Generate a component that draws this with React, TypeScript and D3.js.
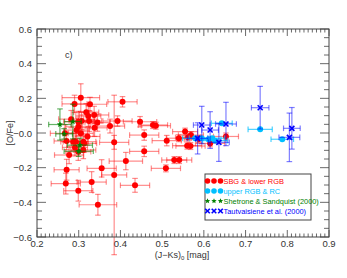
import React from "react";
import * as d3 from "d3";

// SBG & lower RGB (red)
const redX = [0.305,0.405,0.327,0.290,0.337,0.323,0.325,0.393,0.307,0.299,0.447,0.375,0.485,0.478,0.299,0.295,0.457,0.267,0.305,0.385,0.271,0.311,0.293,0.511,0.457,0.413,0.529,0.541,0.509,0.385,0.435,0.355,0.277,0.271,0.269,0.299,0.331,0.346,0.299,0.311,0.555,0.569,0.562,0.540,0.560,0.568,0.588,0.615,0.653,0.287,0.313,0.291,0.318,0.338,0.345,0.282,0.321];
const redY = [0.204,0.180,0.166,0.168,0.104,0.098,0.069,0.069,0.069,0.065,0.065,0.040,0.042,0.046,0.036,0.017,-0.012,-0.002,-0.002,-0.054,-0.046,-0.050,-0.050,-0.044,-0.106,-0.162,-0.156,-0.156,-0.204,-0.242,-0.302,-0.204,-0.127,-0.212,-0.292,-0.333,-0.283,-0.414,-0.108,-0.098,0.008,-0.012,-0.025,-0.030,-0.073,-0.075,-0.035,-0.060,-0.020,-0.050,-0.060,-0.083,0.120,0.030,0.060,0.080,-0.020];
const redXErr = [0.045,0.035,0.04,0.03,0.035,0.03,0.03,0.035,0.03,0.035,0.04,0.035,0.035,0.035,0.03,0.03,0.035,0.035,0.03,0.035,0.03,0.03,0.03,0.035,0.035,0.04,0.03,0.03,0.035,0.03,0.035,0.035,0.035,0.03,0.035,0.035,0.035,0.045,0.03,0.03,0.03,0.03,0.03,0.03,0.035,0.035,0.035,0.035,0.03,0.03,0.03,0.03,0.03,0.03,0.03,0.03,0.03];
const redYErr = [0.08,0.03,0.04,0.05,0.05,0.06,0.06,0.03,0.05,0.06,0.03,0.04,0.02,0.02,0.05,0.05,0.03,0.05,0.05,0.04,0.05,0.06,0.06,0.03,0.03,0.05,0.02,0.02,0.02,0.46,0.04,0.05,0.05,0.06,0.06,0.06,0.06,0.06,0.05,0.05,0.02,0.02,0.02,0.02,0.02,0.02,0.02,0.02,0.02,0.05,0.05,0.05,0.05,0.05,0.05,0.05,0.05];

// upper RGB & RC (cyan)
const cyanX = [0.735,0.788,0.643,0.595,0.611,0.627,0.579,0.620];
const cyanY = [0.021,-0.036,0.056,-0.031,-0.036,-0.044,-0.031,-0.030];
const cyanXErr = [0.029,0.027,0.025,0.03,0.03,0.03,0.03,0.03];
const cyanYErr = [0.005,0.005,0.005,0.005,0.005,0.005,0.005,0.005];

// Shetrone & Sandquist (2000) (green)
const greenX = [0.255,0.286,0.303,0.300,0.265];
const greenY = [0.049,0.066,-0.070,-0.105,-0.005];
const greenXErr = [0.027,0.02,0.03,0.035,0.02];
const greenYErr = [0.09,0.10,0.04,0.03,0.03];

// Tautvaisiene et al. (2000) (blue)
const blueX = [0.595,0.615,0.585,0.653,0.636,0.735,0.811,0.805];
const blueY = [0.046,0.017,-0.031,0.052,-0.054,0.146,0.027,-0.025];
const blueXErr = [0.02,0.02,0.025,0.025,0.025,0.021,0.02,0.025];
const blueYErr = [0.108,0.106,0.09,0.125,0.11,0.123,0.12,0.14];

const xTicks = [0.2,0.3,0.4,0.5,0.6,0.7,0.8,0.9];
const yTicks = [0.6,0.4,0.2,0.0,-0.2,-0.4,-0.6];
const yTickLabels = ["0.6","0.4","0.2","\u22120.0","\u22120.2","\u22120.4","\u22120.6"];
const legendLabels = ["SBG & lower RGB","upper RGB & RC","Shetrone & Sandquist (2000)","Tautvaisiene et al. (2000)"];

const W = 347, H = 278;
const L = 37, R = 329, T = 29, B = 237;
const x = d3.scaleLinear().domain([0.2,0.9]).range([L,R]);
const y = d3.scaleLinear().domain([-0.6,0.6]).range([B,T]);

const FONT = "'Liberation Sans', Arial, Helvetica, sans-serif";
const RED = "#ff0000", CYAN = "#00bfff", GREEN = "#008000", BLUE = "#0000ff";

function ErrBars({xs, ys, xe, ye, color, op}:{xs:number[],ys:number[],xe:number[],ye:number[],color:string,op:number}) {
  const cap = 2.8;
  return (
    <g stroke={color} strokeOpacity={op} strokeWidth={1.2} fill="none">
      {xs.map((v,i)=>{
        const cx = x(v), cy = y(ys[i]);
        const x0 = x(v - xe[i]), x1 = x(v + xe[i]);
        const y0 = y(ys[i] - ye[i]), y1 = y(ys[i] + ye[i]);
        return (
          <g key={i}>
            <line x1={x0} x2={x1} y1={cy} y2={cy}/>
            <line x1={x0} x2={x0} y1={cy-cap} y2={cy+cap}/>
            <line x1={x1} x2={x1} y1={cy-cap} y2={cy+cap}/>
            {ye[i] > 0.008 && <>
              <line x1={cx} x2={cx} y1={y0} y2={y1}/>
              <line x1={cx-cap} x2={cx+cap} y1={y0} y2={y0}/>
              <line x1={cx-cap} x2={cx+cap} y1={y1} y2={y1}/>
            </>}
          </g>
        );
      })}
    </g>
  );
}

function star(cx:number, cy:number, r:number) {
  const pts:string[] = [];
  for (let k=0;k<10;k++){
    const a = -Math.PI/2 + k*Math.PI/5;
    const rr = k%2===0 ? r : r*0.45;
    pts.push(`${cx+rr*Math.cos(a)},${cy+rr*Math.sin(a)}`);
  }
  return pts.join(" ");
}

function XMark({cx, cy, s}:{cx:number,cy:number,s:number}) {
  return (
    <g stroke={BLUE} strokeWidth={1.6}>
      <line x1={cx-s} y1={cy-s} x2={cx+s} y2={cy+s}/>
      <line x1={cx-s} y1={cy+s} x2={cx+s} y2={cy-s}/>
    </g>
  );
}

export default function App() {
  const xMinor = d3.range(0.2, 0.9001, 0.01);
  const yMinor = d3.range(-0.6, 0.6001, 0.05);
  const axisColor = "#444";
  const legX = 205, legY = 174, legW = 106, legH = 46;
  const rowY = [181, 191, 201, 211];
  const symX = [207.5, 214, 220.5];
  return (
    <svg width={W} height={H} style={{position:"absolute",left:0,top:0}} fontFamily={FONT}>
      <rect x={0} y={0} width={W} height={H} fill="#fff"/>
      {/* data */}
      <ErrBars xs={redX} ys={redY} xe={redXErr} ye={redYErr} color={RED} op={0.45}/>
      {redX.map((v,i)=> <circle key={i} cx={x(v)} cy={y(redY[i])} r={3} fill={RED}/>)}
      <ErrBars xs={cyanX} ys={cyanY} xe={cyanXErr} ye={cyanYErr} color={CYAN} op={0.7}/>
      {cyanX.map((v,i)=> <circle key={i} cx={x(v)} cy={y(cyanY[i])} r={3} fill={CYAN}/>)}
      <ErrBars xs={greenX} ys={greenY} xe={greenXErr} ye={greenYErr} color={GREEN} op={0.6}/>
      {greenX.map((v,i)=> <polygon key={i} points={star(x(v), y(greenY[i]), 3.2)} fill={GREEN}/>)}
      <ErrBars xs={blueX} ys={blueY} xe={blueXErr} ye={blueYErr} color={BLUE} op={0.5}/>
      {blueX.map((v,i)=> <XMark key={i} cx={x(v)} cy={y(blueY[i])} s={2.5}/>)}

      {/* frame */}
      <rect x={L} y={T} width={R-L} height={B-T} fill="none" stroke={axisColor} strokeWidth={1}/>
      {xMinor.map((v,i)=>{
        const major = Math.abs(Math.round(v*10)-v*10) < 1e-6;
        const len = major ? 7 : 3.5;
        return <g key={"xt"+i} stroke={axisColor} strokeWidth={0.8}>
          <line x1={x(v)} x2={x(v)} y1={B} y2={B-len}/>
          <line x1={x(v)} x2={x(v)} y1={T} y2={T+len}/>
        </g>;
      })}
      {yMinor.map((v,i)=>{
        const major = Math.abs(Math.round(v*5)-v*5) < 1e-6;
        const len = major ? 9 : 5;
        return <g key={"yt"+i} stroke={axisColor} strokeWidth={0.8}>
          <line x1={L} x2={L+len} y1={y(v)} y2={y(v)}/>
          <line x1={R} x2={R-len} y1={y(v)} y2={y(v)}/>
        </g>;
      })}
      {xTicks.map((v,i)=> <text key={"xl"+i} x={x(v)} y={247} textAnchor="middle" fontSize={9.5} fill="#333">{d3.format(".1f")(v)}</text>)}
      {yTicks.map((v,i)=> <text key={"yl"+i} x={32} y={y(v)+3.5} textAnchor="end" fontSize={9.5} fill="#333">{yTickLabels[i]}</text>)}
      <text x={182} y={258} textAnchor="middle" fontSize={9} fill="#333">(J−Ks)<tspan fontSize={6} dy={2}>0</tspan><tspan dy={-2}> [mag]</tspan></text>
      <text transform={`translate(13,${y(0)}) rotate(-90)`} textAnchor="middle" fontSize={9} fill="#333">[O/Fe]</text>
      <text x={65} y={58} fontSize={9} fill="#333">c)</text>

      {/* legend */}
      <rect x={legX} y={legY} width={legW} height={legH} fill="#fff" stroke={axisColor} strokeWidth={1}/>
      {symX.map((sx,k)=> <circle key={"l1"+k} cx={sx} cy={rowY[0]} r={2.8} fill={RED}/>)}
      {symX.map((sx,k)=> <circle key={"l2"+k} cx={sx} cy={rowY[1]} r={2.8} fill={CYAN}/>)}
      {symX.map((sx,k)=> <polygon key={"l3"+k} points={star(sx,rowY[2],2.8)} fill={GREEN}/>)}
      {symX.map((sx,k)=> <XMark key={"l4"+k} cx={sx} cy={rowY[3]} s={2.3}/>)}
      {legendLabels.map((t,i)=> <text key={"lt"+i} x={223.5} y={rowY[i]+2.6} fontSize={7.4} fill={[RED,CYAN,GREEN,BLUE][i]}>{t}</text>)}
    </svg>
  );
}
